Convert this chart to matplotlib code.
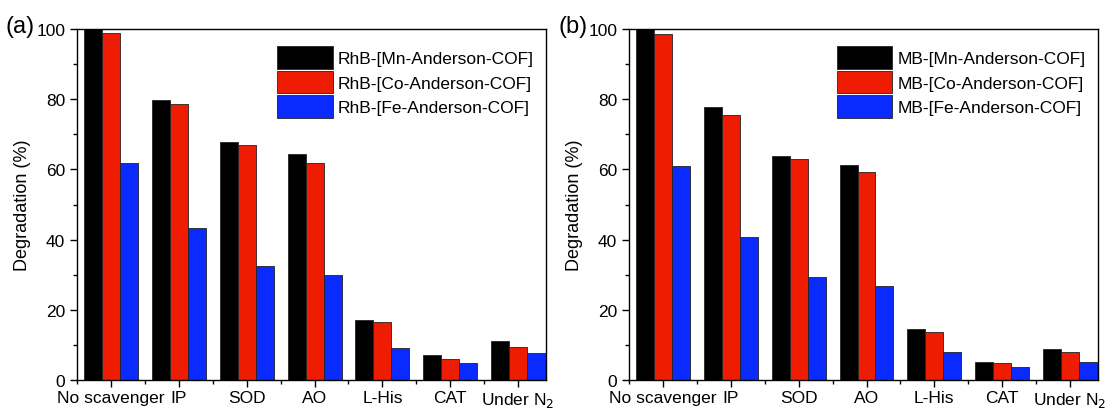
import numpy as np
import matplotlib.pyplot as plt
from matplotlib.ticker import MultipleLocator

plt.rcParams['font.family'] = ['Liberation Sans', 'DejaVu Sans']

categories = ['No scavenger', 'IP', 'SOD', 'AO', 'L-His', 'CAT', 'Under N$_2$']

rhb_mn = [100.0, 79.8, 67.8, 64.4, 17.2, 7.1, 11.1]
rhb_co = [98.8, 78.7, 66.9, 61.8, 16.6, 5.9, 9.3]
rhb_fe = [61.8, 43.2, 32.6, 29.9, 9.0, 4.9, 7.8]

mb_mn = [100.0, 77.9, 63.9, 61.3, 14.4, 5.0, 8.7]
mb_co = [98.6, 75.4, 63.1, 59.3, 13.7, 4.9, 7.9]
mb_fe = [61.0, 40.7, 29.4, 26.8, 7.9, 3.8, 5.2]

colors = ['#000000', '#ee1c00', '#0a2bff']

fig = plt.figure(figsize=(11.05, 4.14), dpi=100)
ax1 = fig.add_axes([0.0697, 0.0797, 0.4244, 0.8478])
ax2 = fig.add_axes([0.5692, 0.0797, 0.4244, 0.8478])

x = np.arange(1, len(categories) + 1)
w = 0.265


def panel(ax, series, labels, tag, tagx):
    for i, (vals, lab) in enumerate(zip(series, labels)):
        ax.bar(x + (i - 1) * w, vals, w, color=colors[i], edgecolor='#222222',
               linewidth=0.6, label=lab)
    ax.set_xlim(0.5, 7.41)
    ax.set_ylim(0, 100)
    ax.set_xticks(x)
    ax.set_xticklabels(categories, fontsize=12.5)
    ax.set_xticks(x - 0.5, minor=True)
    ax.yaxis.set_major_locator(MultipleLocator(20))
    ax.yaxis.set_minor_locator(MultipleLocator(10))
    ax.tick_params(axis='both', which='major', direction='out', length=5, width=1,
                   labelsize=12.5)
    ax.tick_params(axis='x', which='major', pad=2)
    ax.tick_params(axis='both', which='minor', direction='out', length=3, width=1)
    ax.set_ylabel('Degradation (%)', fontsize=13, labelpad=4)
    for s in ax.spines.values():
        s.set_linewidth(1.0)
    ax.legend(loc='upper right', bbox_to_anchor=(1.0, 0.985), frameon=False,
              fontsize=12.5, handlelength=3.2, handleheight=1.6,
              handletextpad=0.3, labelspacing=0.12, borderaxespad=0.3)
    fig.text(tagx, 0.935, tag, fontsize=17, ha='left', va='center')


panel(ax1, [rhb_mn, rhb_co, rhb_fe],
      ['RhB-[Mn-Anderson-COF]', 'RhB-[Co-Anderson-COF]', 'RhB-[Fe-Anderson-COF]'],
      '(a)', 0.005)
panel(ax2, [mb_mn, mb_co, mb_fe],
      ['MB-[Mn-Anderson-COF]', 'MB-[Co-Anderson-COF]', 'MB-[Fe-Anderson-COF]'],
      '(b)', 0.505)

fig.savefig('out.png', dpi=100)
